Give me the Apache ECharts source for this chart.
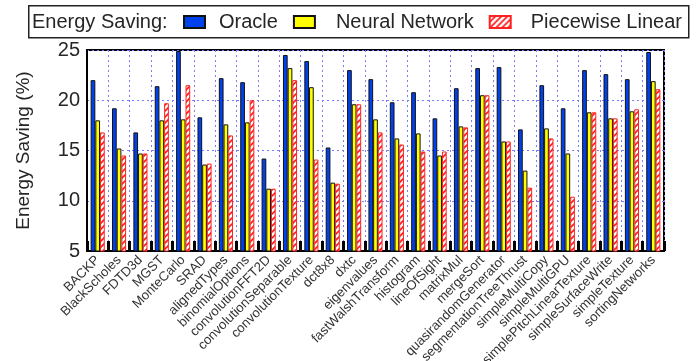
<!DOCTYPE html>
<html>
<head>
<meta charset="utf-8">
<script src="https://cdn.jsdelivr.net/npm/echarts@6/dist/echarts.min.js"></script>
<style>
  html, body { margin: 0; padding: 0; background: #fff; }
  #chart { width: 697px; height: 361px; }
</style>
</head>
<body>
<div id="chart"></div>
<script>
// Benchmarks (x axis)
const categories = [
  'BACKP', 'BlackScholes', 'FDTD3d', 'MGST', 'MonteCarlo', 'SRAD',
  'alignedTypes', 'binomialOptions', 'convolutionFFT2D', 'convolutionSeparable',
  'convolutionTexture', 'dct8x8', 'dxtc', 'eigenvalues', 'fastWalshTransform',
  'histogram', 'lineOfSight', 'matrixMul', 'mergeSort', 'quasirandomGenerator',
  'segmentationTreeThrust', 'simpleMultiCopy', 'simpleMultiGPU',
  'simplePitchLinearTexture', 'simpleSurfaceWrite', 'simpleTexture', 'sortingNetworks'
];

// Energy saving (%) per benchmark
const oracle = [22.0, 19.2, 16.8, 21.4, 24.9, 18.3, 22.2, 21.8, 14.2, 24.5, 23.9, 15.3, 23.0, 22.1,
                19.8, 20.8, 18.2, 21.2, 23.2, 23.3, 17.1, 21.5, 19.2, 23.0, 22.6, 22.1, 24.8];
const neuralNetwork = [18.0, 15.2, 14.7, 18.0, 18.1, 13.6, 17.6, 17.8, 11.2, 23.2, 21.3, 11.8, 19.6, 18.1,
                       16.2, 16.7, 14.5, 17.4, 20.5, 15.9, 13.0, 17.2, 14.7, 18.8, 18.2, 18.9, 21.9];
const piecewiseLinear = [16.8, 14.5, 14.7, 19.7, 21.5, 13.7, 16.5, 20.0, 11.2, 22.0, 14.1, 11.7, 19.6, 16.8,
                         15.6, 14.9, 14.9, 17.3, 20.5, 15.9, 11.3, 16.2, 10.4, 18.8, 18.2, 19.1, 21.1];

// y-axis range
const yMin = 5, yMax = 25, yStep = 5;

const FONT = 'Liberation Sans';
const TEXT = '#262626';

// White tile with a red "/" stripe for the hatched series
function hatch() {
  const c = document.createElement('canvas');
  c.width = 6; c.height = 6;
  const g = c.getContext('2d');
  g.fillStyle = '#fff';
  g.fillRect(0, 0, 6, 6);
  g.strokeStyle = '#ff1a1a';
  g.lineWidth = 1.6;
  g.beginPath();
  g.moveTo(-1, 7); g.lineTo(7, -1);
  g.moveTo(-1, 1); g.lineTo(1, -1);
  g.moveTo(5, 7); g.lineTo(7, 5);
  g.stroke();
  return c;
}

const chart = echarts.init(document.getElementById('chart'), null, { renderer: 'canvas' });

const dotted = { color: '#7a7aff', width: 1, type: [2, 3] };

chart.setOption({
  animation: false,
  backgroundColor: '#fff',
  textStyle: { fontFamily: FONT },
  graphic: [
    {
      type: 'rect', left: 28, top: 5, z: 0,
      shape: { width: 660, height: 32 },
      style: { fill: '#fff', stroke: '#222', lineWidth: 1.5 }
    },
    {
      type: 'text', left: 32, top: 12, z: 1,
      style: { text: 'Energy Saving:', font: '20px ' + FONT, fill: TEXT }
    }
  ],
  legend: {
    left: 183, top: 12, z: 5, padding: 0,
    itemWidth: 21, itemHeight: 12, itemGap: 15,
    icon: 'rect',
    textStyle: { fontSize: 20, color: TEXT, fontFamily: FONT },
    data: [
      { name: 'Oracle', textStyle: { padding: [0, 0, 0, 9] } },
      { name: 'Neural Network', textStyle: { padding: [0, 0, 0, 16] } },
      { name: 'Piecewise Linear', textStyle: { padding: [0, 0, 0, 15] } }
    ]
  },
  grid: {
    left: 87, right: 33, top: 50, bottom: 110,
    outerBoundsMode: 'none',
    containLabel: false,
    show: true, borderColor: '#000', borderWidth: 2, backgroundColor: 'transparent'
  },
  xAxis: {
    type: 'category',
    data: categories,
    boundaryGap: true,
    axisLine: { lineStyle: { color: '#000', width: 2 } },
    axisTick: { show: true, inside: true, length: 10, interval: 0, lineStyle: { color: '#000', width: 3 } },
    splitLine: { show: true, interval: 0, lineStyle: dotted },
    axisLabel: { interval: 0, rotate: 45, fontSize: 13.2, color: '#333', margin: 7, fontFamily: FONT }
  },
  yAxis: {
    type: 'value',
    min: yMin, max: yMax, interval: yStep,
    name: 'Energy Saving (%)',
    nameLocation: 'middle',
    nameGap: 54,
    nameTextStyle: { fontSize: 19, color: TEXT, fontFamily: FONT },
    axisLine: { show: true, lineStyle: { color: '#000', width: 2 } },
    axisTick: { show: false },
    splitLine: { show: true, lineStyle: dotted },
    axisLabel: { fontSize: 20, color: TEXT, margin: 7, fontFamily: FONT }
  },
  series: [
    {
      name: 'Oracle', type: 'bar', data: oracle,
      barWidth: 4.7, barGap: '0%',
      itemStyle: { color: '#0041ee', borderColor: '#111', borderWidth: 1 }
    },
    {
      name: 'Neural Network', type: 'bar', data: neuralNetwork,
      barWidth: 4.7, barGap: '0%',
      itemStyle: { color: '#ffff00', borderColor: '#111', borderWidth: 1 }
    },
    {
      name: 'Piecewise Linear', type: 'bar', data: piecewiseLinear,
      barWidth: 4.7, barGap: '0%',
      itemStyle: { color: { image: hatch(), repeat: 'repeat' }, borderColor: '#ff2020', borderWidth: 1 }
    }
  ]
});
</script>
</body>
</html>
